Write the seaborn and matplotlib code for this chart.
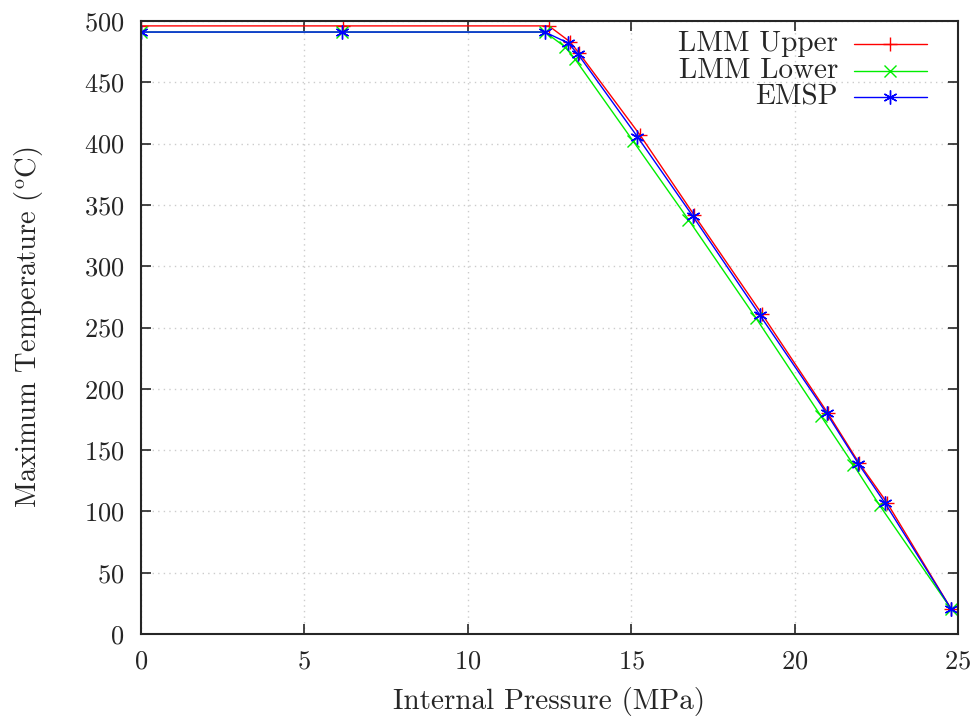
import matplotlib
matplotlib.use("Agg")
import matplotlib.pyplot as plt
from matplotlib.lines import Line2D
import seaborn as sns
import pandas as pd

upper_x = [0, 6.18, 12.48, 13.13, 13.4, 15.27, 16.92, 19.0, 21.02, 21.97, 22.83, 24.8]
upper_y = [496, 496, 496, 483, 474, 407, 342, 261, 180, 139.5, 107, 20]
lower_x = [0, 6.15, 12.36, 12.97, 13.28, 15.06, 16.75, 18.81, 20.8, 21.8, 22.6, 24.8]
lower_y = [491, 491, 491, 479, 469, 402, 338, 258, 178, 138, 105, 20]
emsp_x = [0, 6.15, 12.36, 13.07, 13.37, 15.19, 16.88, 18.94, 20.98, 21.95, 22.77, 24.8]
emsp_y = [491, 491, 491, 482, 473, 405.6, 341, 260, 180, 139, 106.6, 20]

labels = ["LMM Upper", "LMM Lower", "EMSP"]
x_ticks = [0, 5, 10, 15, 20, 25]
y_ticks = [0, 50, 100, 150, 200, 250, 300, 350, 400, 450, 500]

sns.set_style("ticks")
plt.rcParams["font.family"] = ["cmr10", "DejaVu Serif"]
plt.rcParams["mathtext.fontset"] = "cm"
plt.rcParams["axes.formatter.use_mathtext"] = True

fig = plt.figure(figsize=(9.78, 7.16), dpi=100)
ax = fig.add_axes([141/978, 1-634/716, (958-141)/978, (634-21)/716])

series = [
    (upper_x, upper_y, "#ff0000", "+", 10),
    (lower_x, lower_y, "#00ee00", "x", 8),
    (emsp_x, emsp_y, "#0000ff", (6, 2, 0), 10),
]
for (xs, ys, c, m, ms), lab in zip(series, labels):
    df = pd.DataFrame({"x": xs, "y": ys})
    sns.lineplot(data=df, x="x", y="y", ax=ax, color=c, marker=m, markersize=ms,
                 markeredgecolor=c, markeredgewidth=1.0, linewidth=1.0,
                 sort=False, legend=False)

ax.set_xlim(0, 25)
ax.set_ylim(0, 500)
ax.set_xticks(x_ticks)
ax.set_yticks(y_ticks)
ax.tick_params(direction="in", top=True, right=True, length=7, width=1.2, labelsize=19)
ax.tick_params(axis="y", pad=12)
ax.tick_params(axis="x", pad=11)
ax.grid(True, linestyle=(0, (1, 3)), color="#cccccc", linewidth=1.0)
for s in ax.spines.values():
    s.set_linewidth(1.5)
ax.set_xlabel("Internal Pressure (MPa)", fontsize=21, labelpad=10)
ax.set_ylabel(r"Maximum Temperature ($^{\rm o}$C)", fontsize=20.5, labelpad=28)

# manual legend (gnuplot style: text right-aligned, sample to the right)
def ax_x(px):
    return (px - 141) / 817
def ax_y(py):
    return (634 - py) / 613

rows_py = [44, 71, 97]
for (xs, ys, c, m, ms), lab, py in zip(series, labels, rows_py):
    ax.text(ax_x(838), ax_y(py), lab, transform=ax.transAxes, ha="right",
            va="center", fontsize=21)
    ax.add_line(Line2D([ax_x(854), ax_x(927)], [ax_y(py), ax_y(py)],
                       transform=ax.transAxes, color=c, linewidth=1.0, clip_on=False))
    ax.add_line(Line2D([ax_x(890)], [ax_y(py)], transform=ax.transAxes, color=c,
                       marker=m, markersize=ms, markeredgewidth=1.0, linestyle="none",
                       clip_on=False))

fig.savefig("out.png", dpi=100)
